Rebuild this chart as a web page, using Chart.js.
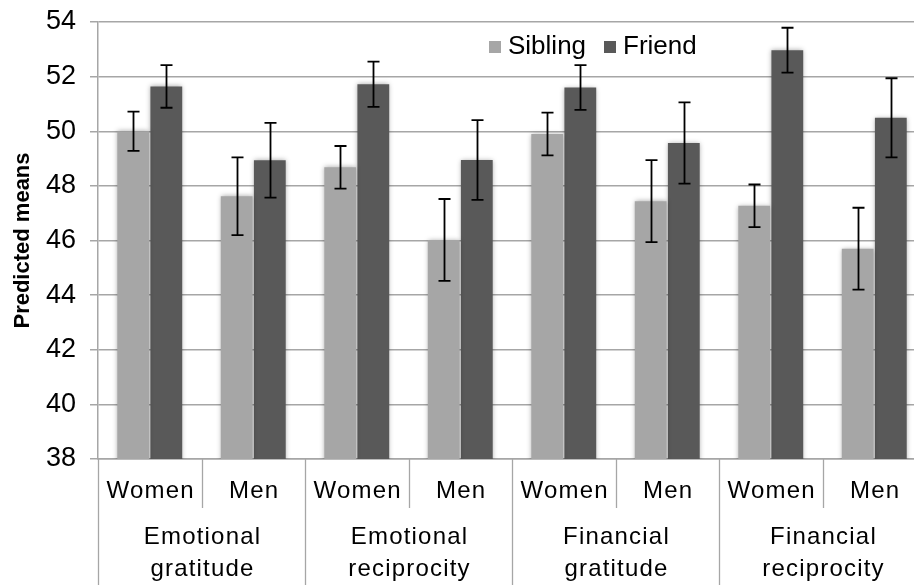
<!DOCTYPE html>
<html>
<head>
<meta charset="utf-8">
<script src="https://cdn.jsdelivr.net/npm/chart.js@4/dist/chart.umd.min.js"></script>
<style>
  html, body { margin: 0; padding: 0; background: #ffffff; overflow: hidden; }
  #wrap { width: 940px; height: 585px; position: relative; }
</style>
</head>
<body>
<div id="wrap"><canvas id="c"></canvas></div>
<script>
// ---- data ----
const groupLabels = [['Emotional', 'gratitude'], ['Emotional', 'reciprocity'], ['Financial', 'gratitude'], ['Financial', 'reciprocity']];
const genderLabels = ['Women', 'Men'];
const categories = ['Emotional gratitude - Women', 'Emotional gratitude - Men', 'Emotional reciprocity - Women', 'Emotional reciprocity - Men', 'Financial gratitude - Women', 'Financial gratitude - Men', 'Financial reciprocity - Women', 'Financial reciprocity - Men'];
const seriesNames = ['Sibling', 'Friend'];
const siblingValues = [50.00, 47.62, 48.68, 46.02, 49.90, 47.44, 47.27, 45.70];
const friendValues  = [51.64, 48.94, 51.72, 48.95, 51.60, 49.57, 52.97, 50.49];
const siblingErrors = [0.72, 1.42, 0.78, 1.50, 0.78, 1.50, 0.78, 1.50];
const friendErrors  = [0.78, 1.37, 0.83, 1.46, 0.82, 1.49, 0.82, 1.45];
const yTicks = [38, 40, 42, 44, 46, 48, 50, 52, 54];
const yTitle = 'Predicted means';

const errorsByDataset = [siblingErrors, friendErrors];

const shadowPlugin = {
  id: 'barShadow',
  beforeDatasetsDraw(chart) {
    const ctx = chart.ctx;
    ctx.save();
    ctx.shadowColor = 'rgba(0,0,0,0.35)';
    ctx.shadowBlur = 5;
    ctx.shadowOffsetX = 0;
    ctx.shadowOffsetY = 0;
  },
  afterDatasetsDraw(chart) {
    const ctx = chart.ctx;
    ctx.restore();
    // error bars
    const y = chart.scales.y;
    ctx.save();
    ctx.strokeStyle = '#000000';
    ctx.lineWidth = 1.8;
    chart.data.datasets.forEach((ds, di) => {
      const meta = chart.getDatasetMeta(di);
      const errs = errorsByDataset[di];
      meta.data.forEach((bar, i) => {
        const v = ds.data[i];
        const e = errs[i];
        const x = Math.round(bar.x) + 0.5;
        const yTop = y.getPixelForValue(v + e);
        const yBot = y.getPixelForValue(v - e);
        ctx.beginPath();
        ctx.moveTo(x, yTop); ctx.lineTo(x, yBot);
        ctx.moveTo(x - 6, yTop); ctx.lineTo(x + 6, yTop);
        ctx.moveTo(x - 6, yBot); ctx.lineTo(x + 6, yBot);
        ctx.stroke();
      });
    });
    ctx.restore();
  }
};

const axisLabelPlugin = {
  id: 'axisLabels',
  afterDraw(chart) {
    const ctx = chart.ctx;
    const xs = chart.scales.x;
    const area = chart.chartArea;
    const n = categories.length;
    const step = xs.getPixelForValue(1) - xs.getPixelForValue(0);
    ctx.save();
    ctx.strokeStyle = '#a6a6a6';
    ctx.lineWidth = 1.3;
    // separators
    for (let i = 0; i <= n; i++) {
      const bx = Math.round(xs.getPixelForValue(0) - step / 2 + i * step) + 0.5;
      ctx.beginPath();
      ctx.moveTo(bx, area.bottom);
      ctx.lineTo(bx, i % 2 === 0 ? chart.height : area.bottom + 49);
      ctx.stroke();
    }
    ctx.fillStyle = '#000000';
    ctx.textAlign = 'center';
    ctx.textBaseline = 'middle';
    ctx.font = '24px "Liberation Sans", Arial, sans-serif';
    try { ctx.letterSpacing = '1.2px'; } catch (e) {}
    for (let i = 0; i < n; i++) {
      const cx = xs.getPixelForValue(i) + 1;
      ctx.fillText(genderLabels[i % 2], cx, area.bottom + 32);
    }
    for (let g = 0; g < groupLabels.length; g++) {
      const cx = (xs.getPixelForValue(2 * g) + xs.getPixelForValue(2 * g + 1)) / 2 + 1;
      ctx.fillText(groupLabels[g][0], cx, area.bottom + 78);
      ctx.fillText(groupLabels[g][1], cx, area.bottom + 110);
    }
    try { ctx.letterSpacing = '0px'; } catch (e) {}
    // legend
    ctx.font = '26px "Liberation Sans", Arial, sans-serif';
    ctx.textAlign = 'left';
    const legendX = [489, 604];
    chart.data.datasets.forEach((ds, di) => {
      ctx.fillStyle = ds.backgroundColor;
      ctx.fillRect(legendX[di], 41, 12, 12);
      ctx.fillStyle = '#000000';
      ctx.fillText(ds.label, legendX[di] + 19, 47);
    });
    ctx.restore();
  }
};

new Chart(document.getElementById('c'), {
  type: 'bar',
  data: {
    labels: categories,
    datasets: [
      { label: seriesNames[0], data: siblingValues, backgroundColor: '#a6a6a6', borderWidth: 0 },
      { label: seriesNames[1], data: friendValues, backgroundColor: '#595959', borderWidth: 0 }
    ]
  },
  options: {
    responsive: true,
    maintainAspectRatio: false,
    animation: false,
    events: [],
    layout: { padding: { top: 22, right: 14, bottom: 126, left: 0 } },
    datasets: { bar: { categoryPercentage: 0.64, barPercentage: 0.96 } },
    plugins: { legend: { display: false }, tooltip: { enabled: false } },
    scales: {
      x: {
        ticks: { display: false },
        grid: { display: false, drawTicks: false },
        border: { display: true, color: '#a6a6a6', width: 1.5 }
      },
      y: {
        min: 38, max: 54,
        afterBuildTicks(scale) { scale.ticks = yTicks.map(v => ({ value: v })); },
        afterFit(scale) { scale.width = 98; scale.paddingTop = 0; scale.paddingBottom = 0; },
        ticks: {
          color: '#000000',
          padding: 14,
          font: { family: '"Liberation Sans", Arial, sans-serif', size: 27 }
        },
        grid: { color: '#a6a6a6', lineWidth: 1.5, tickLength: 8, drawTicks: true },
        border: { display: true, color: '#a6a6a6', width: 1.5 },
        title: {
          display: true,
          text: yTitle,
          color: '#000000',
          padding: { top: 10, bottom: 0 },
          font: { family: '"Liberation Sans", Arial, sans-serif', size: 22, weight: 'bold' }
        }
      }
    }
  },
  plugins: [shadowPlugin, axisLabelPlugin]
});
</script>
</body>
</html>
